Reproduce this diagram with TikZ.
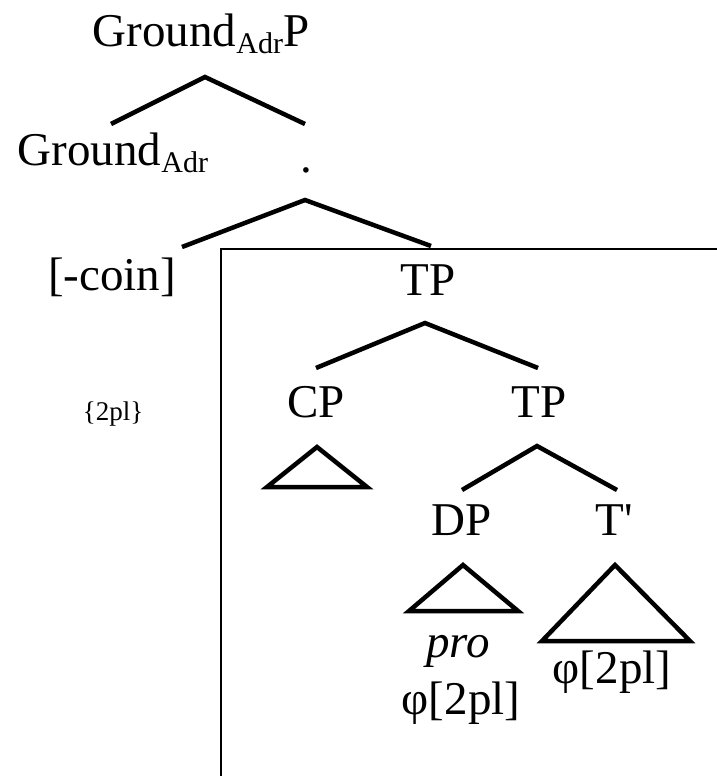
\documentclass[tikz,border=0pt]{standalone}
\usepackage{fontspec}
\setmainfont{Liberation Serif}
\newfontfamily\plainserif[Ligatures=TeXOff]{Liberation Serif}
\begin{document}
\begin{tikzpicture}[x=1pt,y=-1pt,
  lab/.style={anchor=base,inner sep=0pt,font=\fontsize{47}{52}\selectfont},
  small/.style={anchor=base,inner sep=0pt,font=\fontsize{27}{30}\selectfont},
  branch/.style={line width=4.5pt,line cap=butt,line join=miter},
  boxline/.style={line width=2pt}]
\useasboundingbox (0,0) rectangle (716,776);
\newcommand{\sbx}[1]{\raisebox{-7pt}{\fontsize{30}{32}\selectfont #1}}
% nodes
\node[lab] (root) at (201,47) {Ground\sbx{Adr}P};
\node[lab] (gadr) at (113,165) {Ground\sbx{Adr}};
\node[lab] (dot) at (306,172) {.};
\node[lab] (coin) at (112,290) {[-coin]};
\node[small] (pl) at (113,420) {\{2pl\}};
\node[lab] (tp1) at (428,295) {TP};
\node[lab] (cp) at (316,417) {CP};
\node[lab] (tp2) at (539,417) {TP};
\node[lab] (dp) at (462,535) {DP};
\node[lab] (tb) at (614,535) {{\plainserif T'}};
\node[lab] (pro) at (458,657) {\itshape pro};
\node[lab] (phi1) at (461,714) {φ[2pl]};
\node[lab] (phi2) at (612,683) {φ[2pl]};
% branch points
\coordinate (a1) at (205,77);  \coordinate (l1) at (111,124); \coordinate (r1) at (305,124);
\coordinate (a2) at (305,200); \coordinate (l2) at (182,247); \coordinate (r2) at (431,246);
\coordinate (a3) at (425,323); \coordinate (l3) at (316,368); \coordinate (r3) at (538,368);
\coordinate (a4) at (537,446); \coordinate (l4) at (462,490); \coordinate (r4) at (617,490);
\draw[branch] (l1) -- (a1) -- (r1);
\draw[branch] (l2) -- (a2) -- (r2);
\draw[branch] (l3) -- (a3) -- (r3);
\draw[branch] (l4) -- (a4) -- (r4);
% triangles
\coordinate (c1) at (317,447); \coordinate (c2) at (267,487); \coordinate (c3) at (367,487);
\draw[branch] (c1) -- (c2) -- (c3) -- cycle;
\coordinate (d1) at (463,565); \coordinate (d2) at (409,611); \coordinate (d3) at (518,611);
\draw[branch] (d1) -- (d2) -- (d3) -- cycle;
\coordinate (t1) at (615,565); \coordinate (t2) at (542,641); \coordinate (t3) at (690,641);
\draw[branch] (t1) -- (t2) -- (t3) -- cycle;
% box
\coordinate (bx1) at (720,249); \coordinate (bx2) at (221,249); \coordinate (bx3) at (221,780);
\draw[boxline] (bx1) -- (bx2) -- (bx3);
\end{tikzpicture}
\end{document}
